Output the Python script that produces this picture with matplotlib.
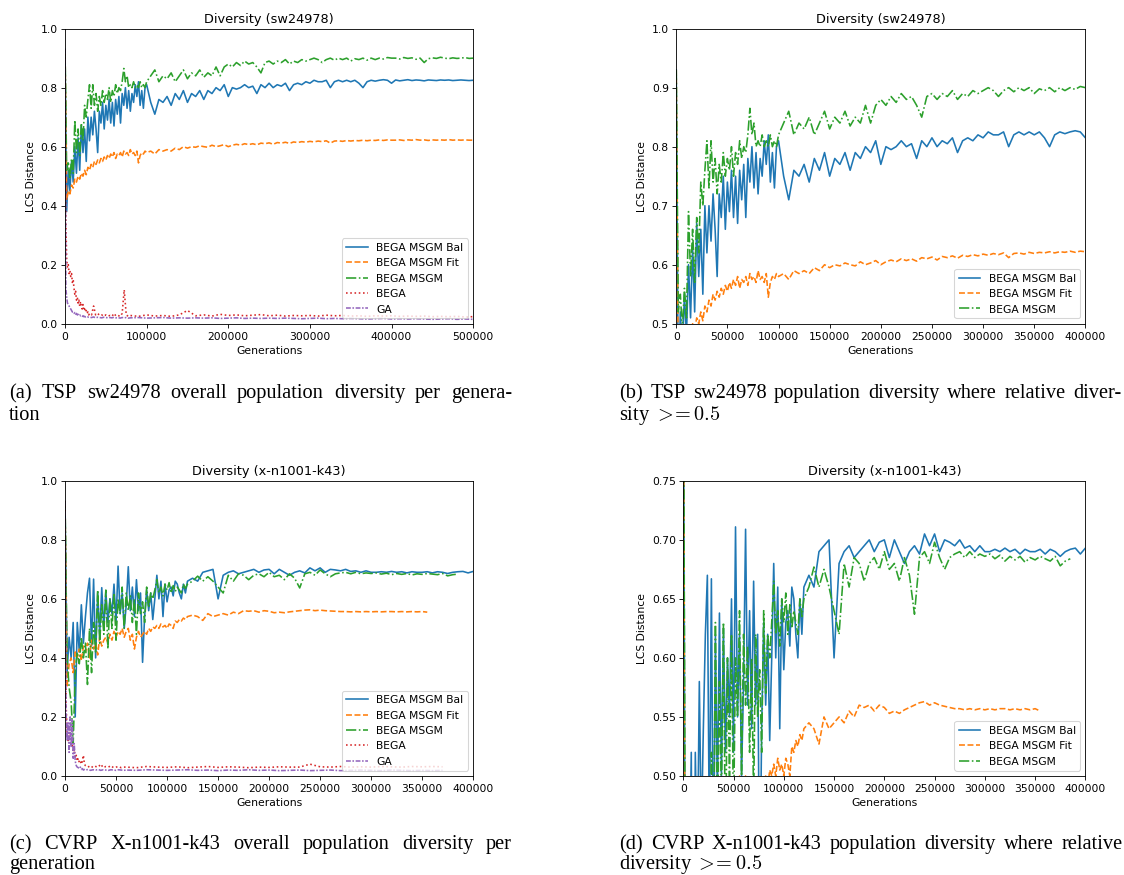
import numpy as np
import matplotlib
matplotlib.use("Agg")
import matplotlib.pyplot as plt

nan = np.nan

# ---------------- data: TSP sw24978 ----------------
tsp_gens = np.r_[0:100001:2000, 105000:500001:5000]
tsp_bal = (
    [0.93, 0.38, 0.52, 0.45, 0.55, 0.48, 0.60, 0.51, 0.63, 0.52,
     0.67, 0.58, 0.66, 0.55, 0.70, 0.62, 0.70, 0.64, 0.72, 0.66,
     0.58, 0.72, 0.68, 0.75, 0.66, 0.74, 0.69, 0.76, 0.68, 0.75,
     0.67, 0.76, 0.71, 0.77, 0.68, 0.78, 0.74, 0.80, 0.73, 0.79,
     0.72, 0.78, 0.75, 0.81, 0.77, 0.82, 0.74, 0.79, 0.73, 0.80,
     0.81]
    + [0.75, 0.71, 0.76, 0.75, 0.77, 0.74, 0.78, 0.76, 0.79, 0.75,
       0.78, 0.77, 0.79, 0.76, 0.79, 0.78, 0.80, 0.79, 0.81, 0.77,
       0.80, 0.795, 0.80, 0.81, 0.80, 0.805, 0.78, 0.81, 0.80, 0.815,
       0.80, 0.81, 0.805, 0.815, 0.79, 0.81, 0.815, 0.81, 0.82, 0.815,
       0.825, 0.82, 0.82, 0.825, 0.80, 0.82, 0.825, 0.82, 0.825, 0.82,
       0.825, 0.815, 0.80, 0.82, 0.825, 0.822, 0.825, 0.827, 0.825, 0.815]
    + [0.826, 0.823, 0.825, 0.827, 0.824, 0.826, 0.825, 0.823, 0.826, 0.825,
       0.824, 0.826, 0.825, 0.826, 0.824, 0.825, 0.826, 0.825, 0.824, 0.825]
)
tsp_fit = (
    [0.93, 0.42, 0.45, 0.44, 0.47, 0.46, 0.49, 0.48, 0.50, 0.49,
     0.51, 0.50, 0.52, 0.505, 0.53, 0.52, 0.54, 0.53, 0.55, 0.54,
     0.555, 0.545, 0.56, 0.55, 0.565, 0.555, 0.57, 0.56, 0.575, 0.565,
     0.58, 0.56, 0.575, 0.57, 0.58, 0.565, 0.585, 0.575, 0.58, 0.57,
     0.59, 0.575, 0.58, 0.57, 0.585, 0.545, 0.57, 0.58, 0.575, 0.585,
     0.58]
    + [0.585, 0.575, 0.59, 0.585, 0.59, 0.585, 0.595, 0.59, 0.60, 0.595,
       0.60, 0.598, 0.603, 0.60, 0.598, 0.605, 0.60, 0.603, 0.607, 0.60,
       0.605, 0.608, 0.605, 0.61, 0.607, 0.61, 0.606, 0.612, 0.61, 0.613,
       0.608, 0.614, 0.612, 0.615, 0.611, 0.616, 0.614, 0.617, 0.615, 0.618,
       0.616, 0.619, 0.617, 0.62, 0.612, 0.619, 0.62, 0.618, 0.621, 0.619,
       0.621, 0.62, 0.622, 0.62, 0.622, 0.621, 0.623, 0.621, 0.623, 0.622]
    + [0.622, 0.623, 0.621, 0.623, 0.622, 0.624, 0.622, 0.623, 0.621, 0.623,
       0.622, 0.623, 0.622, 0.624, 0.622, 0.623, 0.622, 0.623, 0.622, 0.622]
)
tsp_msgm = (
    [0.93, 0.52, 0.55, 0.49, 0.56, 0.51, 0.69, 0.58, 0.66, 0.57,
     0.68, 0.62, 0.74, 0.70, 0.76, 0.81, 0.73, 0.81, 0.74, 0.78,
     0.72, 0.77, 0.74, 0.79, 0.75, 0.78, 0.76, 0.80, 0.75, 0.79,
     0.77, 0.81, 0.78, 0.80, 0.79, 0.82, 0.865, 0.82, 0.84, 0.80,
     0.81, 0.80, 0.82, 0.80, 0.81, 0.80, 0.82, 0.80, 0.81, 0.80,
     0.82]
    + [0.84, 0.86, 0.82, 0.84, 0.83, 0.85, 0.82, 0.84, 0.86, 0.83,
       0.85, 0.84, 0.86, 0.835, 0.85, 0.84, 0.87, 0.84, 0.87, 0.88,
       0.87, 0.885, 0.875, 0.89, 0.88, 0.885, 0.87, 0.85, 0.885, 0.89,
       0.88, 0.89, 0.885, 0.895, 0.88, 0.89, 0.885, 0.895, 0.89, 0.895,
       0.90, 0.895, 0.885, 0.895, 0.90, 0.893, 0.90, 0.895, 0.90, 0.89,
       0.898, 0.895, 0.90, 0.893, 0.90, 0.895, 0.90, 0.897, 0.902, 0.90]
    + [0.900, 0.897, 0.902, 0.899, 0.901, 0.896, 0.900, 0.885, 0.898, 0.901,
       0.899, 0.903, 0.900, 0.898, 0.901, 0.899, 0.900, 0.902, 0.899, 0.900]
)
tsp_low_gens = np.r_[0:30000:1000, 30000:80000:2500, 80000:500001:10000]
tsp_bega = (
    [0.93, 0.35, 0.22, 0.19, 0.20, 0.17, 0.18, 0.16, 0.17, 0.14,
     0.15, 0.12, 0.10, 0.11, 0.08, 0.09, 0.07, 0.08, 0.06, 0.075,
     0.06, 0.05, 0.065, 0.045, 0.05, 0.04, 0.045, 0.035, 0.04, 0.03]
    + [0.035, 0.03, 0.06, 0.03, 0.035, 0.028, 0.03, 0.025, 0.03, 0.026,
       0.028, 0.025, 0.035, 0.026, 0.028, 0.025, 0.035, 0.115, 0.03, 0.025]
    + [0.028, 0.025, 0.03, 0.026, 0.028, 0.025, 0.03, 0.045, 0.027, 0.03,
       0.026, 0.032, 0.028, 0.03, 0.027, 0.029, 0.031, 0.027, 0.029, 0.026,
       0.028, 0.027, 0.028, 0.026, 0.029, 0.027, 0.028, 0.026, 0.027, 0.025,
       0.027, 0.026, 0.027, 0.025, 0.026, 0.025, 0.026, 0.024, 0.025, 0.024,
       0.025, 0.023, 0.024]
)
tsp_ga = (
    [0.93, 0.12, 0.09, 0.07, 0.065, 0.06, 0.055, 0.05, 0.045, 0.04,
     0.04, 0.035, 0.038, 0.032, 0.035, 0.03, 0.032, 0.028, 0.03, 0.027,
     0.028, 0.025, 0.027, 0.024, 0.025, 0.023, 0.024, 0.022, 0.023, 0.022]
    + [0.022, 0.021, 0.023, 0.02, 0.022, 0.021, 0.02, 0.022, 0.021, 0.02,
       0.021, 0.02, 0.022, 0.02, 0.021, 0.019, 0.021, 0.02, 0.021, 0.019]
    + [0.02, 0.021, 0.019, 0.02, 0.021, 0.019, 0.02, 0.019, 0.02, 0.019,
       0.02, 0.018, 0.019, 0.02, 0.018, 0.019, 0.018, 0.019, 0.018, 0.019,
       0.018, 0.017, 0.018, 0.019, 0.017, 0.018, 0.017, 0.018, 0.017, 0.016,
       0.017, 0.018, 0.016, 0.017, 0.016, 0.017, 0.016, 0.015, 0.016, 0.017,
       0.015, 0.016, 0.015]
)

# ---------------- data: CVRP X-n1001-k43 ----------------
cvrp_gens = np.r_[0:120001:2000, 125000:400001:5000]
cvrp_bal = (
    [0.93, 0.35, 0.47, 0.40, 0.52, 0.20, 0.52, 0.42, 0.58, 0.45,
     0.54, 0.62, 0.67, 0.44, 0.667, 0.40, 0.62, 0.48, 0.638, 0.50,
     0.625, 0.52, 0.60, 0.55, 0.65, 0.52, 0.711, 0.55, 0.62, 0.50,
     0.58, 0.709, 0.56, 0.64, 0.54, 0.665, 0.56, 0.62, 0.385, 0.54,
     0.63, 0.56, 0.62, 0.53, 0.60, 0.68, 0.60, 0.66, 0.54, 0.65,
     0.59, 0.63, 0.64, 0.61, 0.66, 0.65, 0.62, 0.60, 0.65, 0.62,
     0.66]
    + [0.67, 0.66, 0.69, 0.695, 0.70, 0.60, 0.68, 0.69, 0.695, 0.685,
       0.69, 0.695, 0.70, 0.69, 0.698, 0.70, 0.685, 0.70, 0.69, 0.68,
       0.69, 0.695, 0.688, 0.705, 0.695, 0.705, 0.69, 0.70, 0.698, 0.695,
       0.70, 0.693, 0.695, 0.69, 0.695, 0.69, 0.69, 0.692, 0.69, 0.693,
       0.69, 0.692, 0.688, 0.692, 0.69, 0.69, 0.692, 0.688, 0.692, 0.69,
       0.686, 0.69, 0.692, 0.693, 0.688, 0.693]
)
cvrp_fit = (
    [0.93, 0.30, 0.38, 0.40, 0.35, 0.42, 0.40, 0.43, 0.39, 0.44,
     0.42, 0.45, 0.40, 0.46, 0.43, 0.45, 0.41, 0.47, 0.44, 0.46,
     0.47, 0.45, 0.48, 0.46, 0.49, 0.47, 0.49, 0.48, 0.50, 0.47,
     0.49, 0.50, 0.46, 0.48, 0.43, 0.47, 0.49, 0.47, 0.48, 0.49,
     0.48, 0.50, 0.49, 0.505, 0.50, 0.51, 0.50, 0.515, 0.505, 0.51,
     0.50, 0.515, 0.51, 0.50, 0.525, 0.52, 0.53, 0.525, 0.535, 0.53,
     0.54]
    + [0.545, 0.54, 0.527, 0.55, 0.54, 0.545, 0.55, 0.545, 0.555, 0.55,
       0.56, 0.558, 0.56, 0.555, 0.56, 0.558, 0.553, 0.555, 0.553, 0.556,
       0.558, 0.56, 0.562, 0.563, 0.56, 0.562, 0.56, 0.559, 0.558, 0.557,
       0.557, 0.556, 0.557, 0.556, 0.557, 0.556, 0.557, 0.556, 0.557, 0.557,
       0.556, 0.557, 0.556, 0.557, 0.556, 0.557, 0.555,
       nan, nan, nan, nan, nan, nan, nan, nan, nan]
)
cvrp_msgm = (
    [0.93, 0.40, 0.30, 0.25, 0.11, 0.35, 0.42, 0.38, 0.47, 0.40,
     0.45, 0.31, 0.50, 0.35, 0.52, 0.42, 0.63, 0.45, 0.58, 0.48,
     0.63, 0.43, 0.60, 0.50, 0.62, 0.46, 0.60, 0.55, 0.64, 0.50,
     0.62, 0.56, 0.61, 0.52, 0.60, 0.48, 0.62, 0.55, 0.59, 0.52,
     0.64, 0.57, 0.62, 0.60, 0.63, 0.665, 0.62, 0.64, 0.61, 0.65,
     0.63, 0.655, 0.62, 0.645, 0.625, 0.64, 0.63, 0.62, 0.65, 0.635,
     0.65]
    + [0.66, 0.677, 0.66, 0.675, 0.66, 0.64, 0.62, 0.68, 0.66, 0.685,
       0.68, 0.665, 0.68, 0.685, 0.675, 0.69, 0.675, 0.68, 0.665, 0.685,
       0.67, 0.637, 0.685, 0.69, 0.68, 0.698, 0.685, 0.675, 0.685, 0.688,
       0.69, 0.685, 0.69, 0.685, 0.688, 0.686, 0.688, 0.684, 0.687, 0.682,
       0.686, 0.683, 0.686, 0.681, 0.685, 0.683, 0.686, 0.684, 0.682, 0.686,
       0.678, 0.682, 0.684, nan, nan, nan]
)
cvrp_low_gens = np.r_[0:20000:1000, 20000:60000:2500, 60000:370001:10000]
cvrp_bega = (
    [0.93, 0.25, 0.15, 0.12, 0.13, 0.15, 0.10, 0.11, 0.08, 0.09,
     0.06, 0.07, 0.05, 0.06, 0.045, 0.05, 0.04, 0.05, 0.07, 0.04]
    + [0.035, 0.03, 0.035, 0.028, 0.032, 0.03, 0.04, 0.028, 0.032, 0.03,
       0.035, 0.028, 0.03, 0.032, 0.028, 0.03]
    + [0.03, 0.028, 0.032, 0.03, 0.029, 0.031, 0.028, 0.03, 0.032, 0.029,
       0.031, 0.03, 0.028, 0.03, 0.029, 0.031, 0.03, 0.03, 0.04, 0.031,
       0.03, 0.032, 0.03, 0.031, 0.03, 0.032, 0.031, 0.03, 0.032, 0.031,
       0.032, 0.031]
)
cvrp_ga = (
    [0.93, 0.22, 0.12, 0.18, 0.08, 0.20, 0.10, 0.19, 0.06, 0.11,
     0.05, 0.035, 0.03, 0.028, 0.025, 0.03, 0.022, 0.025, 0.02, 0.022]
    + [0.02, 0.022, 0.019, 0.021, 0.02, 0.022, 0.019, 0.021, 0.02, 0.019,
       0.021, 0.02, 0.019, 0.021, 0.02, 0.019]
    + [0.02, 0.019, 0.021, 0.02, 0.019, 0.02, 0.021, 0.019, 0.02, 0.018,
       0.02, 0.019, 0.021, 0.019, 0.02, 0.018, 0.019, 0.02, 0.018, 0.019,
       0.02, 0.018, 0.019, 0.02, 0.019, 0.018, 0.02, 0.019, 0.018, 0.019,
       0.018, 0.019]
)

labels = ["BEGA MSGM Bal", "BEGA MSGM Fit", "BEGA MSGM", "BEGA", "GA"]
styles = ["-", "--", "-.", ":", (0, (3, 1, 1, 1))]
colors = ["C0", "C1", "C2", "C3", "C4"]

captions = [
    (["(a)", "TSP", "sw24978", "overall", "population", "diversity", "per", "genera-"], "tion"),
    (["(b)", "TSP", "sw24978", "population", "diversity", "where", "relative", "diver-"],
     r"sity $>\!\!=0.5$"),
    (["(c)", "CVRP", "X-n1001-k43", "overall", "population", "diversity", "per"], "generation"),
    (["(d)", "CVRP", "X-n1001-k43", "population", "diversity", "where", "relative"],
     r"diversity $>\!\!=0.5$"),
]

# ---------------- figure ----------------
plt.rcParams["mathtext.fontset"] = "cm"
DPI = 77
W, H = 1124, 875
fig = plt.figure(figsize=(1124.4 / DPI, 875.4 / DPI), dpi=DPI)


def add_ax(x0, y0, x1, y1):
    return fig.add_axes([x0 / W, 1 - y1 / H, (x1 - x0) / W, (y1 - y0) / H])


def draw(ax, gens, low_gens, series, low_series, nser, title, xlim, ylim, xticks, yticks):
    for i in range(3):
        ax.plot(gens, series[i], linestyle=styles[i], color=colors[i], label=labels[i])
    if nser == 5:
        for j in range(2):
            ax.plot(low_gens, low_series[j], linestyle=styles[3 + j], color=colors[3 + j],
                    label=labels[3 + j])
    ax.set_xlim(*xlim)
    ax.set_ylim(*ylim)
    ax.set_xticks(xticks)
    ax.set_yticks(yticks)
    ax.ticklabel_format(axis="x", style="plain", useOffset=False)
    ax.set_title(title)
    ax.set_xlabel("Generations")
    ax.set_ylabel("LCS Distance")
    ax.legend(loc="lower right")


axa = add_ax(65, 29, 473, 324)
draw(axa, tsp_gens, tsp_low_gens, [tsp_bal, tsp_fit, tsp_msgm], [tsp_bega, tsp_ga], 5,
     "Diversity (sw24978)", (0, 500000), (0, 1.0),
     np.arange(0, 500001, 100000), np.arange(0, 1.01, 0.2))
axb = add_ax(676, 29, 1085, 324)
draw(axb, tsp_gens, tsp_low_gens, [tsp_bal, tsp_fit, tsp_msgm], [tsp_bega, tsp_ga], 3,
     "Diversity (sw24978)", (0, 400000), (0.5, 1.0),
     np.arange(0, 400001, 50000), np.arange(0.5, 1.01, 0.1))
axc = add_ax(65, 481, 473, 776)
draw(axc, cvrp_gens, cvrp_low_gens, [cvrp_bal, cvrp_fit, cvrp_msgm], [cvrp_bega, cvrp_ga], 5,
     "Diversity (x-n1001-k43)", (0, 400000), (0, 1.0),
     np.arange(0, 400001, 50000), np.arange(0, 1.01, 0.2))
axd = add_ax(683, 481, 1085, 776)
draw(axd, cvrp_gens, cvrp_low_gens, [cvrp_bal, cvrp_fit, cvrp_msgm], [cvrp_bega, cvrp_ga], 3,
     "Diversity (x-n1001-k43)", (0, 400000), (0.5, 0.75),
     np.arange(0, 400001, 50000), np.arange(0.5, 0.751, 0.05))
axd.yaxis.set_major_formatter(matplotlib.ticker.FormatStrFormatter("%.2f"))

# ---------------- captions (justified first line) ----------------
CAP_FS = 19
renderer = fig.canvas.get_renderer()


def caption(words, line2, x0, x1, ybase1, ybase2):
    texts = [fig.text(0, 1 - ybase1 / H, w, fontsize=CAP_FS, family="Liberation Serif",
                      va="baseline", ha="left") for w in words]
    widths = [t.get_window_extent(renderer).width for t in texts]
    gap = ((x1 - x0) - sum(widths)) / (len(words) - 1)
    x = x0
    for t, w in zip(texts, widths):
        t.set_x(x / W)
        x += w + gap
    fig.text(x0 / W, 1 - ybase2 / H, line2, fontsize=CAP_FS, family="Liberation Serif",
             va="baseline", ha="left")


caption(*captions[0], 9, 512, 398, 420)
caption(*captions[1], 619, 1121, 398, 420)
caption(*captions[2], 9, 512, 849, 869)
caption(*captions[3], 619, 1122, 849, 869)

fig.savefig("out.png", dpi=DPI)
